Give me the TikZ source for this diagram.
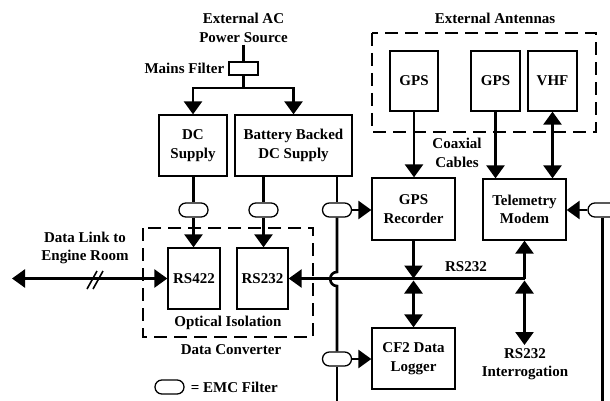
\documentclass[tikz,border=0pt]{standalone}
\usepackage{fontspec}
\setmainfont{Liberation Serif}
\usetikzlibrary{positioning,arrows.meta,calc}

\begin{document}
\begin{tikzpicture}[
    x=1pt,y=-1pt,
    every node/.style={font=\fontsize{15}{18.5}\selectfont\bfseries},
    box/.style={draw,line width=1.3pt,align=center,inner sep=0pt},
    emc/.style={draw,line width=1.3pt,fill=white,rounded corners=6.9pt,minimum width=29pt,minimum height=14pt,inner sep=0pt},
    grp/.style={draw,dash pattern=on 13pt off 7pt,line width=2.4pt},
    lbl/.style={align=center,inner sep=2pt},
    wire/.style={line width=2.6pt},
    arr/.style={wire,-{Triangle[length=13pt,width=18pt]}},
    darr/.style={wire,{Triangle[length=13pt,width=18pt]}-{Triangle[length=13pt,width=18pt]}}
  ]
    \clip (0,0) rectangle (610,401);
    \coordinate (bot) at (0,401);

    % power side
    \node[lbl] (acsrc) at (243.5,28) {External AC\\Power Source};
    \node[box,minimum width=29pt,minimum height=13pt] (mains) at (243.5,68.5) {};
    \node[lbl,left=2pt of mains] (mainslbl) {Mains Filter};
    \node[box,minimum width=68pt,minimum height=61pt] (dcsup) at (193,145.5) {DC\\Supply};
    \node[box,minimum width=117pt,minimum height=61pt] (bbsup) at (293.5,145.5) {Battery Backed\\DC Supply};
    \coordinate (split) at (243.5,88);
    \draw[wire] (acsrc.south) -- (mains.north);
    \draw[wire] (mains.south) -- (split);
    \draw[arr] (split) -| (dcsup.north);
    \draw[arr] (split) -| (bbsup.north);

    % data converter
    \draw[grp] (143,228) rectangle (313,337);
    \node[box,minimum width=52pt,minimum height=61pt] (rs422) at (194,278.5) {RS422};
    \node[box,minimum width=51pt,minimum height=61pt] (rs232) at (262.5,278.5) {RS232};
    \node[lbl] (optlbl) at (228,323) {Optical Isolation};
    \node[lbl] (convlbl) at (231,350) {Data Converter};

    % EMC filters
    \node[emc] (f1) at (193.5,210) {};
    \node[emc] (f2) at (263.5,210) {};
    \node[emc] (f3) at (337,210) {};
    \node[emc] (f4) at (337,359) {};
    \node[emc] (f5) at (602.5,210) {};
    \draw[wire] (f1.north |- dcsup.south) -- (f1.north);
    \draw[arr] (f1.south) -- (f1.south |- rs422.north);
    \draw[wire] (f2.north |- bbsup.south) -- (f2.north);
    \draw[arr] (f2.south) -- (f2.south |- rs232.north);

    % antennas
    \node[lbl] (antlbl) at (495,18) {External Antennas};
    \draw[grp] (372,33) rectangle (596,132);
    \node[box,minimum width=48pt,minimum height=60pt] (gps1) at (414,81) {GPS};
    \node[box,minimum width=49pt,minimum height=60pt] (gps2) at (495.5,81) {GPS};
    \node[box,minimum width=49pt,minimum height=60pt] (vhf) at (552.5,81) {VHF};
    \node[lbl] (coax) at (457,153) {Coaxial\\Cables};

    % recorders and modem
    \node[box,minimum width=83pt,minimum height=62pt] (gpsrec) at (413.5,209) {GPS\\Recorder};
    \node[box,minimum width=83pt,minimum height=61pt] (cf2) at (413.5,358.5) {CF2 Data\\Logger};
    \node[box,minimum width=83pt,minimum height=61pt] (tele) at (524.5,209.5) {Telemetry\\Modem};
    \draw[arr] (gps1.south) -- (gps1.south |- gpsrec.north);
    \draw[arr] (gps2.south) -- (gps2.south |- tele.north);
    \draw[darr] (vhf.south) -- (vhf.south |- tele.north);

    % supply line to recorder and logger, hopping the bus
    \coordinate (hopA) at (337,272);
    \coordinate (hopB) at (337,286);
    \draw[wire] (f3.north |- bbsup.south) -- (f3.north);
    \draw[wire] (f3.south) -- (hopA) .. controls ($(hopA)+(-9,0)$) and ($(hopB)+(-9,0)$) .. (hopB) -- (f4.north);
    \draw[wire] (f4.south) -- (f4.south |- bot);
    \draw[arr] (f3.east) -- (f3.east -| gpsrec.west);
    \draw[arr] (f4.east) -- (f4.east -| cf2.west);
    \draw[arr] (f5.west) -- (f5.west -| tele.east);
    \draw[wire] (f5.south) -- (f5.south |- bot);

    % RS232 bus
    \coordinate (busR) at (tele.south |- rs232.east);
    \coordinate (busM) at (gpsrec.south |- rs232.east);
    \coordinate (intbot) at (525,345);
    \draw[arr] (busR) -- (rs232.east);
    \draw[arr] (busR) -- (tele.south);
    \draw[arr] (gpsrec.south) -- (busM);
    \draw[darr] ($(busM)+(0,2)$) -- (cf2.north);
    \draw[darr] ($(busR)+(0,2)$) -- (busR |- intbot);
    \node[lbl] (buslbl) at (466,267) {RS232};
    \node[lbl] (interlbl) at (525,364) {RS232\\Interrogation};

    % data link
    \coordinate (dlend) at (12,278.5);
    \draw[darr] (dlend) -- (rs422.west);
    \draw[line width=1.6pt] (87,289) -- (97,271) (93,289) -- (103,271);
    \node[lbl] (dlinklbl) at (85,248) {Data Link to\\Engine Room};

    % legend
    \node[emc] (emckey) at (169.5,387) {};
    \node[lbl,right=4pt of emckey] (emctxt) {= EMC Filter};
\end{tikzpicture}
\end{document}
